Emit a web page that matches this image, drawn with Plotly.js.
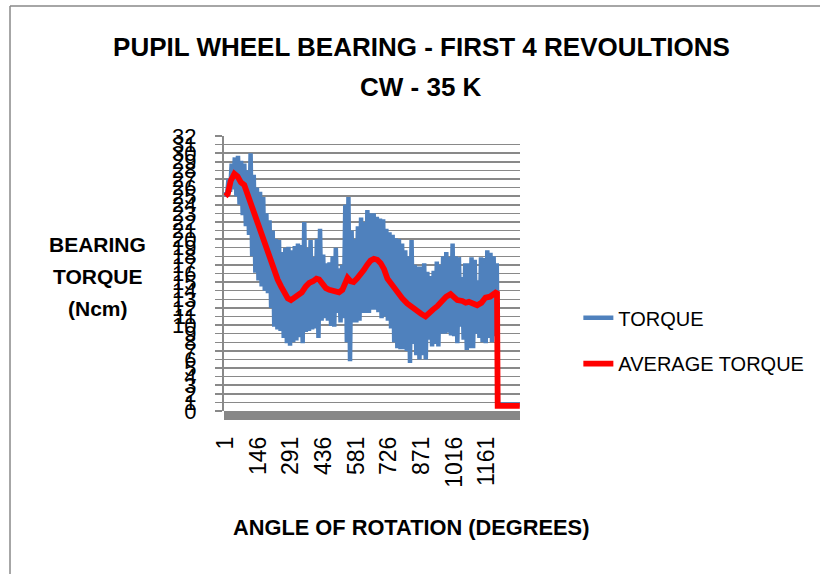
<!DOCTYPE html>
<html><head><meta charset="utf-8">
<script src="https://cdn.plot.ly/plotly-3.0.1.min.js"></script>
<style>html,body{margin:0;padding:0;background:#fff}#chart{width:820px;height:574px}</style>
</head><body><div id="chart"></div>
<script>
// ---- data ----
const torqueAngles = [
  1,8,15,22,29,36,43,50,57,64,
  71,78,85,92,99,106,113,120,127,134,
  141,148,155,162,169,176,183,190,197,204,
  211,218,225,232,239,246,253,260,267,274,
  281,288,295,302,309,316,323,330,337,344,
  351,358,365,372,379,386,393,400,407,414,
  421,428,435,442,449,456,463,470,477,484,
  491,498,505,512,519,526,533,540,547,554,
  561,568,575,582,589,596,603,610,617,624,
  631,638,645,652,659,666,673,680,687,694,
  701,708,715,722,729,736,743,750,757,764,
  771,778,785,792,799,806,813,820,827,834,
  841,848,855,862,869,876,883,890,897,904,
  911,918,925,932,939,946,953,960,967,974,
  981,988,995,1002,1009,1016,1023,1030,1037,1044,
  1051,1058,1065,1072,1079,1086,1093,1100,1107,1114,
  1121,1128,1135,1142,1149,1156,1163,1170,1177,1184,
  1191,1198,1205,1210,1250,1307
];
const torqueValues = [
  25.5,25.0,27.0,25.5,28.8,25.8,29.5,25.0,29.7,24.0,
  29.1,22.8,28.8,21.5,28.0,20.5,30.0,18.0,27.5,16.1,
  26.0,15.2,25.5,14.5,24.9,14.0,23.0,13.7,22.2,12.0,
  21.0,9.8,20.0,9.5,19.9,9.3,18.5,8.5,19.0,7.9,
  19.1,7.6,18.7,8.0,19.2,8.2,19.5,8.6,19.3,7.9,
  22.0,9.2,19.0,9.3,19.9,9.5,17.9,9.6,20.0,8.5,
  21.2,10.5,18.2,10.8,17.2,10.5,17.3,9.9,18.0,9.8,
  19.0,11.4,16.6,10.3,17.0,10.8,24.0,8.0,24.9,5.8,
  21.0,10.3,20.0,10.3,21.5,10.5,22.5,11.4,22.0,11.4,
  23.4,11.4,23.0,11.8,23.0,11.8,22.6,11.5,22.4,10.8,
  22.3,11.0,21.2,10.5,20.8,9.6,20.5,8.0,20.1,7.3,
  20.0,7.2,19.5,7.2,18.7,7.0,18.0,5.6,19.9,7.8,
  17.0,6.5,16.8,6.0,16.8,6.5,17.2,6.0,16.2,8.3,
  15.7,7.5,16.3,7.8,17.4,7.5,17.0,9.0,18.0,9.0,
  18.5,9.1,17.9,8.8,19.5,8.7,18.0,7.9,17.9,9.8,
  15.6,8.3,17.2,7.1,17.2,7.3,17.9,7.3,17.6,9.0,
  15.2,8.5,17.9,8.0,17.8,7.9,18.7,8.5,18.4,8.0,
  18.0,8.7,17.2,0.75,0.75,0.75
];
const avgAngles = [
  1,12,25,41,55,70,85,100,115,130,
  145,160,174,190,204,220,233,248,263,278,
  292,307,322,340,358,373,390,405,417,432,
  447,462,477,491,505,520,530,543,556,570,
  585,600,615,630,645,660,675,690,705,720,
  742,764,786,808,823,838,853,870,889,905,
  922,941,960,980,1000,1015,1030,1052,1067,1081,
  1100,1118,1137,1155,1175,1190,1206,1209,1250,1307
];
const avgValues = [
  25.0,25.3,26.8,27.6,27.3,26.6,26.3,25.2,24.0,22.7,
  21.4,20.4,19.5,18.3,17.2,16.0,15.3,14.5,13.7,13.1,
  12.9,13.2,13.5,13.8,14.5,14.9,15.1,15.4,15.3,14.7,
  14.3,14.1,14.0,13.9,13.8,14.1,14.6,15.5,15.1,15.0,
  15.4,15.8,16.4,17.0,17.5,17.7,17.6,17.2,16.5,15.4,
  14.6,13.7,13.1,12.5,12.2,11.8,11.6,11.3,11.0,11.5,
  11.8,12.2,12.8,13.3,13.6,13.2,12.9,12.8,12.6,12.7,
  12.5,12.3,12.6,13.2,13.3,13.6,13.9,0.6,0.6,0.6
];
const xTickValues = [1,146,291,436,581,726,871,1016,1161];
const xTickLabels = ['1','146','291','436','581','726','871','1016','1161'];
const seriesNames = ['TORQUE','AVERAGE TORQUE'];

// ---- layout geometry (pixels) ----
const W = 820, H = 574;
const PL = 224, PR = 520.7, PT = 135.7, PB = 411.5;
const px = v => (v - PL) / (PR - PL);
const py = v => (PB - v) / (PB - PT);
const FONT = "'Liberation Sans', Arial, sans-serif";
const GRID = '#898989';

const traces = [
  {x: torqueAngles, y: torqueValues, type:'scatter', mode:'lines', name: seriesNames[0],
   line:{color:'#4F81BD', width:4.5}, legend:'legend', hoverinfo:'skip'},
  {x: avgAngles, y: avgValues, type:'scatter', mode:'lines', name: seriesNames[1],
   line:{color:'#FF0000', width:5.8}, legend:'legend2', hoverinfo:'skip'}
];

const layout = {
  width: W, height: H,
  margin: {l: PL, r: W - PR, t: PT, b: H - PB, pad: 0},
  paper_bgcolor: '#ffffff', plot_bgcolor: '#ffffff',
  font: {family: FONT, color: '#000000'},
  title: {text: '<b>PUPIL WHEEL BEARING - FIRST 4 REVOULTIONS</b>',
          font: {size: 26, family: FONT, color: '#000'},
          xref: 'container', x: 421.5 / W, xanchor: 'center',
          yref: 'container', y: 1 - 47 / H, yanchor: 'middle'},
  xaxis: {range: [-5, 1308], tickmode: 'array', tickvals: xTickValues, ticktext: xTickLabels,
          tickangle: -90, tickfont: {size: 23, family: FONT, color: '#000'},
          ticks: '', showgrid: false, zeroline: false, showline: false,
          ticklabelstandoff: 20, fixedrange: true},
  yaxis: {range: [0, 32], tickmode: 'linear', tick0: 0, dtick: 1,
          showgrid: true, gridcolor: GRID, gridwidth: 1.5,
          ticks: 'outside', ticklen: 7, tickwidth: 1.5, tickcolor: GRID,
          showline: true, linecolor: GRID, linewidth: 2, zeroline: false,
          tickfont: {size: 22, family: FONT, color: '#000'}, ticklabelstandoff: 14,
          fixedrange: true},
  showlegend: true,
  legend: {x: px(578), xanchor: 'left', y: py(318), yanchor: 'middle',
           font: {size: 20, family: FONT, color: '#000'}, bgcolor: 'rgba(0,0,0,0)', borderwidth: 0},
  legend2: {x: px(578), xanchor: 'left', y: py(364), yanchor: 'middle',
           font: {size: 20, family: FONT, color: '#000'}, bgcolor: 'rgba(0,0,0,0)', borderwidth: 0},
  shapes: [
    {type:'rect', xref:'paper', yref:'paper', x0: 0, x1: 1, y0: py(420.5), y1: 0,
     fillcolor: '#878787', line: {width: 0}},
    {type:'line', xref:'paper', yref:'paper', x0: px(9.5), x1: px(W + 5), y0: py(5.3), y1: py(5.3),
     line: {color: GRID, width: 1.5}},
    {type:'line', xref:'paper', yref:'paper', x0: px(9.5), x1: px(9.5), y0: py(5.3), y1: py(H + 5),
     line: {color: GRID, width: 1.5}}
  ],
  annotations: [
    {text: '<b>CW - 35 K</b>', xref:'paper', yref:'paper', x: px(421.5), y: py(87),
     xanchor:'center', yanchor:'middle', showarrow:false, font:{size:26, family: FONT, color:'#000'}},
    {text: '<b>BEARING</b>', xref:'paper', yref:'paper', x: px(97.5), y: py(245),
     xanchor:'center', yanchor:'middle', showarrow:false, font:{size:21, family: FONT, color:'#000'}},
    {text: '<b>TORQUE</b>', xref:'paper', yref:'paper', x: px(97.5), y: py(276.5),
     xanchor:'center', yanchor:'middle', showarrow:false, font:{size:21, family: FONT, color:'#000'}},
    {text: '<b>(Ncm)</b>', xref:'paper', yref:'paper', x: px(97.5), y: py(308.5),
     xanchor:'center', yanchor:'middle', showarrow:false, font:{size:21, family: FONT, color:'#000'}},
    {text: '<b>ANGLE OF ROTATION (DEGREES)</b>', xref:'paper', yref:'paper', x: px(411.5), y: py(528),
     xanchor:'center', yanchor:'middle', showarrow:false, font:{size:21.8, family: FONT, color:'#000'}}
  ]
};

Plotly.newPlot('chart', traces, layout, {displayModeBar: false, staticPlot: true, responsive: false});
</script>
</body></html>
